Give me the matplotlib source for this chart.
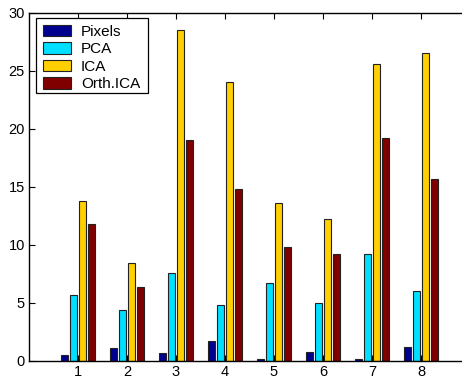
import numpy as np
import matplotlib
matplotlib.use('Agg')
import matplotlib.pyplot as plt
from matplotlib.patches import Rectangle

matplotlib.rcParams['font.family'] = ['Liberation Sans', 'DejaVu Sans']

# dados
grupos = [1, 2, 3, 4, 5, 6, 7, 8]
series = ['Pixels', 'PCA', 'ICA', 'Orth.ICA']
pixels = [0.5, 1.1, 0.7, 1.7, 0.2, 0.8, 0.2, 1.2]
pca = [5.7, 4.4, 7.6, 4.8, 6.7, 5.0, 9.2, 6.0]
ica = [13.8, 8.4, 28.5, 24.0, 13.6, 12.2, 25.6, 26.5]
orth_ica = [11.8, 6.4, 19.0, 14.8, 9.8, 9.2, 19.2, 15.7]
cores = ['#00008F', '#00DFFF', '#FFCF00', '#800000']

fig = plt.figure(figsize=(4.62, 3.76), dpi=100)
ax = fig.add_axes([0.0628, 0.0399, 0.9545, 0.9263])

x = np.array(grupos)
passo = 0.18
largura = 0.145
for i, (nome, valores) in enumerate(zip(series, [pixels, pca, ica, orth_ica])):
    ax.bar(x + (i - 1.5) * passo, valores, width=largura, color=cores[i],
           edgecolor='#222222', linewidth=0.8, label=nome)

ax.set_xlim(0, 9)
ax.set_ylim(0, 30)
ax.set_xticks(grupos)
ax.set_yticks([0, 5, 10, 15, 20, 25, 30])
ax.tick_params(direction='in', top=True, right=True, labelsize=10.5, length=4, width=0.8, pad=3)
for s in ax.spines.values():
    s.set_linewidth(1.0)

# caixa da legenda (margens assimétricas como no original)
caixa = Rectangle((0.0779, 0.7527), 0.2424, 0.1995, transform=fig.transFigure,
                  facecolor='white', edgecolor='black', linewidth=0.9, zorder=4)
ax.add_artist(caixa)
caixa.set_clip_on(False)

leg = ax.legend(loc='upper left', bbox_to_anchor=(0.0931, 0.9348),
                bbox_transform=fig.transFigure, fontsize=11, frameon=False,
                handlelength=1.83, handleheight=0.78, labelspacing=0.23,
                handletextpad=0.65, borderpad=0.0, borderaxespad=0.0)
leg.set_zorder(5)

fig.savefig('out.png', dpi=100)
